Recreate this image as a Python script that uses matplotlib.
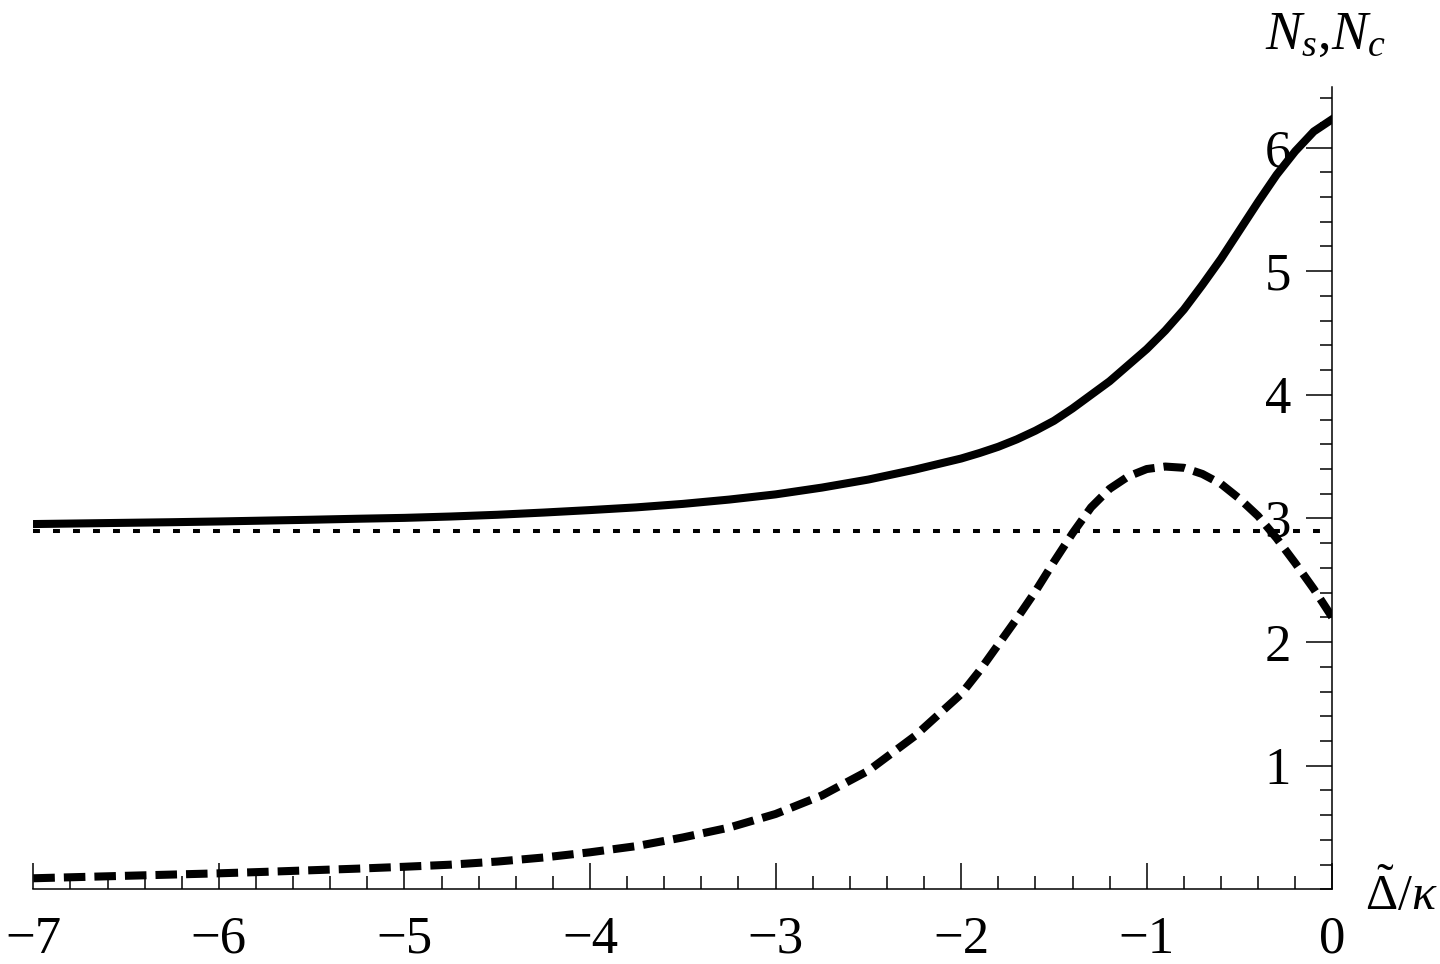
import numpy as np
import matplotlib
matplotlib.use('Agg')
import matplotlib.pyplot as plt
from matplotlib.ticker import MultipleLocator, FixedLocator

# values
x_vals = [-7.0, -6.75, -6.5, -6.25, -6.0, -5.75, -5.5, -5.25, -5.0, -4.75, -4.5,
          -4.25, -4.0, -3.75, -3.5, -3.25, -3.0, -2.75, -2.5, -2.25, -2.0,
          -1.9, -1.8, -1.7, -1.6, -1.5, -1.4, -1.3, -1.2, -1.1, -1.0,
          -0.9, -0.8, -0.7, -0.6, -0.5, -0.4, -0.3, -0.2, -0.1, 0.0]
n_s = [2.955, 2.96, 2.965, 2.97, 2.976, 2.983, 2.99, 2.998, 3.005, 3.016, 3.03,
       3.048, 3.068, 3.09, 3.118, 3.153, 3.195, 3.25, 3.315, 3.395, 3.485,
       3.53, 3.58, 3.64, 3.71, 3.79, 3.89, 4.00, 4.11, 4.24, 4.37,
       4.52, 4.69, 4.89, 5.10, 5.33, 5.56, 5.78, 5.97, 6.13, 6.23]
n_c = [0.09, 0.10, 0.11, 0.12, 0.13, 0.142, 0.155, 0.168, 0.183, 0.20, 0.225,
       0.258, 0.30, 0.35, 0.42, 0.50, 0.61, 0.76, 0.96, 1.24, 1.58,
       1.77, 1.98, 2.19, 2.41, 2.65, 2.88, 3.09, 3.24, 3.34, 3.40,
       3.42, 3.41, 3.36, 3.28, 3.16, 3.02, 2.84, 2.64, 2.43, 2.20]
n_ref = 2.9
x_range = [-7, 0]

plt.rcParams['font.family'] = ['Liberation Serif', 'DejaVu Serif']
plt.rcParams['mathtext.fontset'] = 'custom'
plt.rcParams['mathtext.rm'] = 'Liberation Serif'
plt.rcParams['mathtext.it'] = 'Liberation Serif:italic'
plt.rcParams['lines.scale_dashes'] = False

fig = plt.figure(figsize=(14.4, 9.64), dpi=100)
ax = fig.add_axes([0.02313, 0.07739, 0.90208, 0.83236])

ax.plot(x_vals, n_s, color='black', lw=5.8, solid_joinstyle='round')
ax.plot(x_vals, n_c, color='black', lw=5.8, dashes=(15.5, 6.5))
ax.plot(x_range, [n_ref, n_ref], color='black', lw=2.9, dashes=(5, 9.4))

ax.set_xlim(-7, 0)
ax.set_ylim(0, 6.49)

for side in ['top', 'right']:
    ax.spines[side].set_visible(False)
ax.spines['left'].set_position(('data', 0))
ax.spines['left'].set_linewidth(1.1)
ax.spines['bottom'].set_linewidth(1.1)

ax.xaxis.set_major_locator(MultipleLocator(1))
ax.xaxis.set_minor_locator(MultipleLocator(0.2))
ax.yaxis.set_major_locator(FixedLocator([1, 2, 3, 4, 5, 6]))
ax.yaxis.set_minor_locator(MultipleLocator(0.2))

ax.tick_params(axis='x', which='major', direction='in', length=18.7, width=1.1,
               pad=19, labelsize=38)
ax.tick_params(axis='x', which='minor', direction='in', length=9.4, width=1.1)
ax.tick_params(axis='y', which='major', direction='out', length=18.7, width=1.1,
               pad=11, labelsize=38)
ax.tick_params(axis='y', which='minor', direction='out', length=9.0, width=1.1)

fig.text(1265 / 1440, 1 - 49 / 964, r'$N_s{,}N_c$', fontsize=39,
         ha='left', va='baseline')
fig.text(1365 / 1440, 1 - 910 / 964, r'$\tilde{\Delta}/\kappa$', fontsize=36,
         ha='left', va='baseline')

fig.savefig('out.png', dpi=100)
